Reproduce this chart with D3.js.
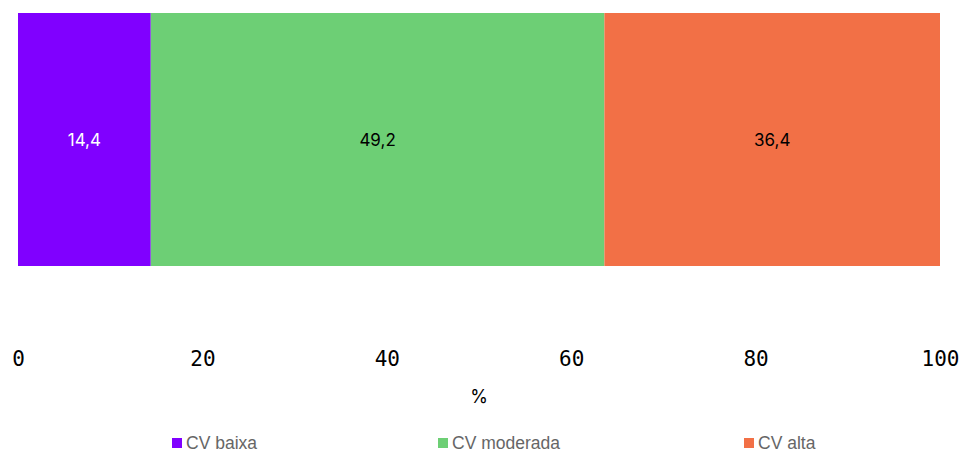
<!DOCTYPE html>
<html><head><meta charset="utf-8">
<script src="https://cdn.jsdelivr.net/npm/d3@7"></script>
<style>body{margin:0;background:#fff}svg{display:block}</style>
</head><body>
<svg id="c" width="960" height="453"></svg>
<script>
const categories = ["CV baixa", "CV moderada", "CV alta"];
const values = [14.4, 49.2, 36.4];
const colors = ["#8000ff", "#6dcf75", "#f27046"];
const labelColors = ["#ffffff", "#000000", "#000000"];
const tickValues = [0, 20, 40, 60, 80, 100];
const legendX = [172, 438, 744];

const svg = d3.select("#c");
const x = d3.scaleLinear().domain([0, 100]).range([18, 940]);
const y0 = 13, y1 = 266;

let acc = 0;
const segs = values.map((v, i) => { const s = {cat: categories[i], v, start: acc, end: acc + v, i}; acc += v; return s; });

svg.selectAll("rect.bar").data(segs).enter().append("rect")
  .attr("x", d => x(d.start)).attr("y", y0)
  .attr("width", d => x(d.end) - x(d.start)).attr("height", y1 - y0)
  .attr("fill", d => colors[d.i]);

svg.selectAll("text.val").data(segs).enter().append("text")
  .attr("x", d => (x(d.start) + x(d.end)) / 2).attr("y", 146)
  .attr("text-anchor", "middle")
  .attr("font-family", "Inter, Roboto, sans-serif").attr("font-size", 17)
  .attr("fill", d => labelColors[d.i])
  .text(d => d3.format(".1f")(d.v).replace(".", ","));

const axis = d3.axisBottom(x).tickValues(tickValues).tickSize(0).tickPadding(0).tickFormat(d3.format("d"));
const g = svg.append("g").attr("transform", "translate(0,366)").call(axis);
g.select(".domain").remove();
g.selectAll("text").attr("font-family", "'DejaVu Sans Mono', monospace").attr("font-size", 21).attr("font-weight", 300)
  .attr("fill", "#000").attr("y", 0).attr("dy", 0);

svg.append("text").attr("x", 479).attr("y", 403).attr("text-anchor", "middle")
  .attr("font-family", "Inter, Roboto, sans-serif").attr("font-size", 18).attr("fill", "#000").text("%");

const lg = svg.selectAll("g.leg").data(categories).enter().append("g")
  .attr("transform", (d, i) => `translate(${legendX[i]},449)`);
lg.append("rect").attr("x", 0).attr("y", -11).attr("width", 10).attr("height", 10).attr("fill", (d, i) => colors[i]);
lg.append("text").attr("x", 14).attr("y", 0).attr("font-family", "'Liberation Sans', Arial, sans-serif").attr("font-size", 17.5)
  .attr("fill", "#666").text(d => d);
</script>
</body></html>
